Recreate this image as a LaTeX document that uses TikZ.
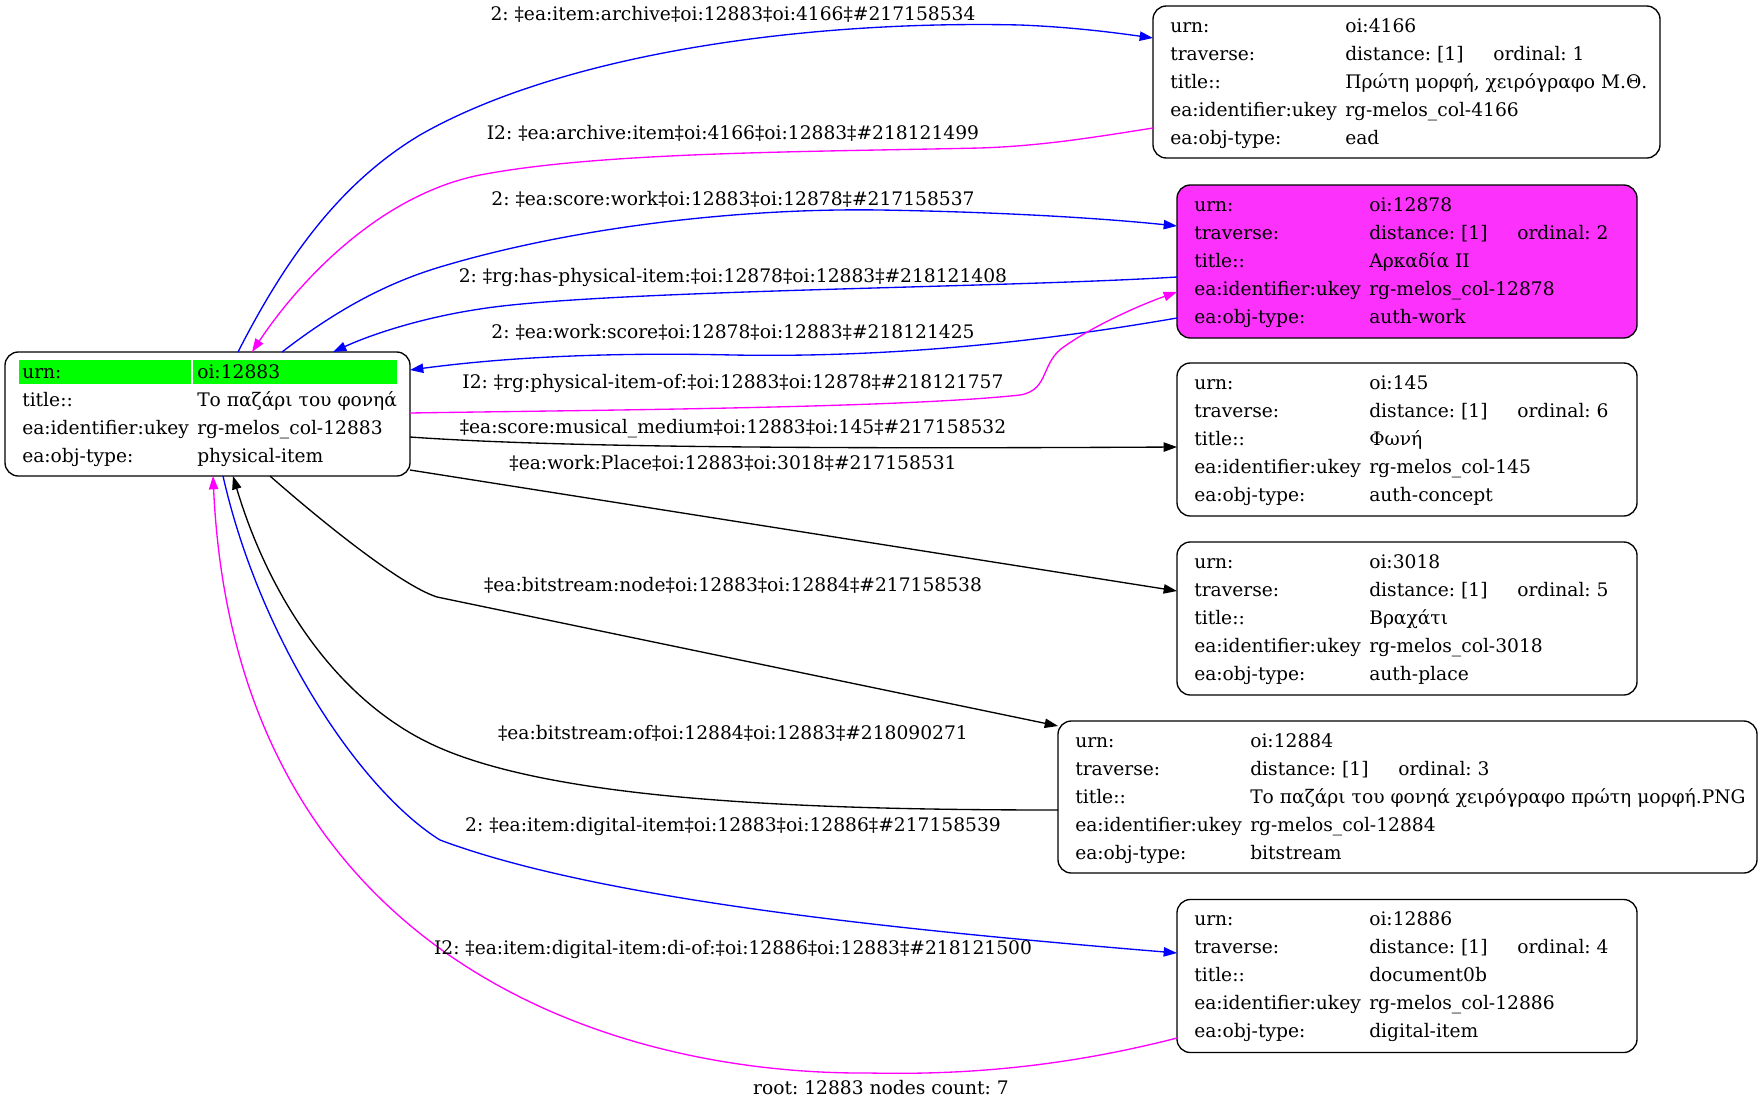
\documentclass[tikz,border=0pt]{standalone}
\usepackage{fontspec}
\setmainfont{DejaVu Serif}
\usetikzlibrary{arrows.meta}
\definecolor{edgeblue}{RGB}{0,0,255}
\definecolor{edgemag}{RGB}{255,0,255}
\definecolor{fillmag}{RGB}{252,50,252}
\definecolor{cellgreen}{RGB}{0,255,0}
\newcommand\fs{\fontsize{14pt}{17pt}\selectfont\frenchspacing}
% prefix, left x, top y, urn, ordinal, title, ukey, objtype
\newcommand\tgtrows[8]{%
 \node[txt] (#1k1) at (#2+17,#3+26) {urn:};
 \node[txt] (#1v1) at (#2+192,#3+26) {#4};
 \node[txt] (#1k2) at (#2+17,#3+54) {traverse:};
 \node[txt] (#1v2) at (#2+192,#3+54) {distance: [1]};
 \node[txt] (#1o2) at (#2+340,#3+54) {ordinal: #5};
 \node[txt] (#1k3) at (#2+17,#3+82) {title::};
 \node[txt] (#1v3) at (#2+192,#3+82) {#6};
 \node[txt] (#1k4) at (#2+17,#3+110) {ea:identifier:ukey};
 \node[txt] (#1v4) at (#2+192,#3+110) {#7};
 \node[txt] (#1k5) at (#2+17,#3+138) {ea:obj-type:};
 \node[txt] (#1v5) at (#2+192,#3+138) {#8};
}
\begin{document}
\begin{tikzpicture}[x=0.75pt,y=-0.75pt,
  box/.style={draw=black, line width=1pt, rounded corners=10pt, inner sep=0pt, outer sep=0pt,
              minimum width=345pt, minimum height=114.75pt},
  txt/.style={anchor=base west, inner sep=0pt, font=\fs},
  lbl/.style={anchor=base, inner sep=0pt, font=\fs},
  conn/.style={line width=1pt, -{Triangle[length=10pt,width=7pt]}},
  bluec/.style={conn, draw=edgeblue},
  magc/.style={conn, draw=edgemag},
  blackc/.style={conn, draw=black}
 ]
\useasboundingbox (0,0) rectangle (1763,1110);
\fill[white] (0,0) rectangle (1763,1110);

% boxes
\node[box, minimum width=303.75pt, minimum height=93pt] (root) at (207.5,414) {};
\node[box, minimum width=380.25pt, minimum height=114pt] (n4166) at (1406.5,82) {};
\node[box, fill=fillmag] (n12878) at (1407,261.5) {};
\node[box] (n145) at (1407,439.5) {};
\node[box] (n3018) at (1407,618.5) {};
\node[box, minimum width=524.25pt, minimum height=114pt] (n12884) at (1407.5,797) {};
\node[box] (n12886) at (1407,976) {};

% root content
\fill[cellgreen] (19,360) rectangle (191,384);
\fill[cellgreen] (193,360) rectangle (397,384);
\node[txt] (rk1) at (22,378) {urn:};
\node[txt] (rv1) at (197,378) {oi:12883};
\node[txt] (rk2) at (22,406) {title::};
\node[txt] (rv2) at (197,406) {Το παζάρι του φονηά};
\node[txt] (rk3) at (22,434) {ea:identifier:ukey};
\node[txt] (rv3) at (197,434) {rg-melos\_col-12883};
\node[txt] (rk4) at (22,462) {ea:obj-type:};
\node[txt] (rv4) at (197,462) {physical-item};

% target contents
\tgtrows{a}{1153}{6}{oi:4166}{1}{Πρώτη μορφή, χειρόγραφο Μ.Θ.}{rg-melos\_col-4166}{ead}
\tgtrows{b}{1177}{185}{oi:12878}{2}{Αρκαδία II}{rg-melos\_col-12878}{auth-work}
\tgtrows{c}{1177}{363}{oi:145}{6}{Φωνή}{rg-melos\_col-145}{auth-concept}
\tgtrows{d}{1177}{542}{oi:3018}{5}{Βραχάτι}{rg-melos\_col-3018}{auth-place}
\tgtrows{e}{1058}{721}{oi:12884}{3}{Το παζάρι του φονηά χειρόγραφο πρώτη μορφή.PNG}{rg-melos\_col-12884}{bitstream}
\tgtrows{f}{1177}{899}{oi:12886}{4}{document0b}{rg-melos\_col-12886}{digital-item}

% connectors
\draw[bluec] (root.north -| 238,0) .. controls (290,250) and (345,180) .. (420,135)
  .. controls (560,55) and (800,20) .. (1020,25) .. controls (1070,27) and (1110,32) .. (n4166.west |- 0,38);
\draw[magc] (n4166.west |- 0,128) .. controls (1090,138) and (1040,146) .. (980,148)
  .. controls (800,152) and (600,152) .. (480,175) .. controls (380,195) and (300,280) .. (root.north -| 252,0);
\draw[bluec] (root.north -| 282,0) .. controls (330,315) and (380,285) .. (440,267)
  .. controls (580,225) and (750,208) .. (880,210) .. controls (1000,212) and (1100,218) .. (n12878.west |- 0,226);
\draw[bluec] (n12878.west |- 0,277) .. controls (1000,288) and (600,290) .. (480,309)
  .. controls (420,318) and (370,335) .. (root.north -| 333,0);
\draw[bluec] (n12878.west |- 0,318) .. controls (1050,340) and (900,358) .. (733,355)
  .. controls (600,352) and (500,358) .. (root.east |- 0,370);
\draw[magc] (root.east |- 0,413) .. controls (600,410) and (900,408) .. (1020,395)
  .. controls (1050,390) and (1040,362) .. (1065,346) .. controls (1095,325) and (1140,305) .. (n12878.west |- 0,292);
\draw[blackc] (root.east |- 0,437) .. controls (550,447) and (800,449) .. (n145.west |- 0,447);
\draw[blackc] (root.east |- 0,470) -- (n3018.west |- 0,591);
\draw[blackc] (root.south -| 270,0) .. controls (320,520) and (400,585) .. (437,597) -- (n12884.west |- 0,726);
\draw[blackc] (n12884.west |- 0,810) .. controls (800,810) and (560,800) .. (440,748)
  .. controls (340,705) and (270,600) .. (root.south -| 233,0);
\draw[bluec] (root.south -| 223,0) .. controls (260,640) and (360,790) .. (440,840)
  .. controls (600,900) and (900,930) .. (n12886.west |- 0,953);
\draw[magc] (n12886.west |- 0,1038) .. controls (1060,1068) and (960,1075) .. (869,1073)
  .. controls (600,1075) and (235,950) .. (root.south -| 213,0);

% edge labels
\node[lbl] (l1) at (733,21) {2: ‡ea:item:archive‡oi:12883‡oi:4166‡\#217158534};
\node[lbl] (l2) at (733,139) {I2: ‡ea:archive:item‡oi:4166‡oi:12883‡\#218121499};
\node[lbl] (l3) at (733,205) {2: ‡ea:score:work‡oi:12883‡oi:12878‡\#217158537};
\node[lbl] (l4) at (733,282) {2: ‡rg:has-physical-item:‡oi:12878‡oi:12883‡\#218121408};
\node[lbl] (l5) at (733,338) {2: ‡ea:work:score‡oi:12878‡oi:12883‡\#218121425};
\node[lbl] (l6) at (733,388) {I2: ‡rg:physical-item-of:‡oi:12883‡oi:12878‡\#218121757};
\node[lbl] (l7) at (733,433) {‡ea:score:musical\_medium‡oi:12883‡oi:145‡\#217158532};
\node[lbl] (l8) at (733,469) {‡ea:work:Place‡oi:12883‡oi:3018‡\#217158531};
\node[lbl] (l9) at (733,591) {‡ea:bitstream:node‡oi:12883‡oi:12884‡\#217158538};
\node[lbl] (l10) at (733,739) {‡ea:bitstream:of‡oi:12884‡oi:12883‡\#218090271};
\node[lbl] (l11) at (733,831) {2: ‡ea:item:digital-item‡oi:12883‡oi:12886‡\#217158539};
\node[lbl] (l12) at (733,954) {I2: ‡ea:item:digital-item:di-of:‡oi:12886‡oi:12883‡\#218121500};
\node[lbl] (footer) at (881,1094) {root: 12883 nodes count: 7};
\end{tikzpicture}
\end{document}
